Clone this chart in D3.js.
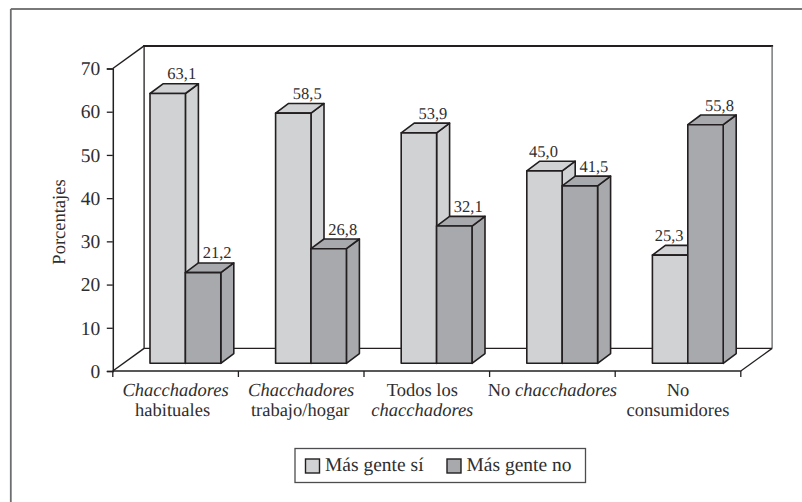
<!DOCTYPE html>
<html>
<head>
<meta charset="utf-8">
<script src="https://cdn.jsdelivr.net/npm/d3@7"></script>
<style>
body { margin: 0; background: #fff; }
svg { display: block; }
text { font-family: "Liberation Serif", serif; fill: #2f2e2e; text-rendering: geometricPrecision; }
</style>
</head>
<body>
<svg width="802" height="502"></svg>
<script>
let categories = [
    [{ t: 'Chacchadores', i: true }, { t: 'habituales' }],
    [{ t: 'Chacchadores', i: true }, { t: 'trabajo/hogar' }],
    [{ t: 'Todos los' }, { t: 'chacchadores', i: true }],
    [{ t: 'No ', inline: 'chacchadores' }],
    [{ t: 'No' }, { t: 'consumidores' }]
];
let seriesNames = ['Más gente sí', 'Más gente no'];
let seriesSi = [63.1, 58.5, 53.9, 45.0, 25.3];
let seriesNo = [21.2, 26.8, 32.1, 41.5, 55.8];
let yTicks = [0, 10, 20, 30, 40, 50, 60, 70];

let ink = '#231f20';
let colors = ['#d1d2d4', '#a7a9ac'];
let depthX = 31.3, depthY = 22.6;   // floor depth
let barDx = 13, barDy = 9.7;        // bar depth

let svg = d3.select('svg');

let x = d3.scaleBand().domain(d3.range(5)).range([112.8, 740.8]);
let xInner = d3.scaleBand().domain([0, 1]).range([37.2, 37.2 + 70.8]);
let y = d3.scaleLinear().domain([0, 70]).range([371, 68.5]);
let yBar = d3.scaleLinear().domain([0, 70]).range([363.3, 64]);

function line(x1, y1, x2, y2, w, col) {
    svg.append('line')
        .attr('x1', x1).attr('y1', y1)
        .attr('x2', x2).attr('y2', y2)
        .attr('stroke', col || ink)
        .attr('stroke-width', w);
}

// outer frame, only top and left are visible
line(10.8, 9, 802, 9, 1.6, '#4d4d4f');
line(10.8, 9, 10.8, 502, 1.8, '#6d6e70');

// back walls and floor
let x0 = x.range()[0], x1 = x.range()[1], y0 = y(0), yTop = y(70);
line(x0 + depthX - 1, yTop - depthY, x1 + depthX + 1, yTop - depthY, 2);
line(x0 + depthX, yTop - depthY, x0 + depthX, y0 - depthY, 1.3);
line(x1 + depthX, yTop - depthY, x1 + depthX, y0 - depthY, 1.2, '#58595b');
line(x0 + depthX, y0 - depthY, x1 + depthX, y0 - depthY, 1.3);
line(x0, yTop, x0 + depthX, yTop - depthY, 1.5);
line(x0, y0, x0 + depthX, y0 - depthY, 1.5);
line(x1, y0, x1 + depthX, y0 - depthY, 1.3);

// axes
let yAxis = d3.axisLeft(y).tickValues(yTicks).tickSize(6).tickFormat(d3.format('d'));
let yG = svg.append('g').attr('transform', 'translate(' + x0 + ',0)').call(yAxis);
yG.select('.domain').attr('stroke', ink).attr('stroke-width', 1.5);
yG.selectAll('.tick line').attr('stroke', ink).attr('stroke-width', 1.3);
yG.selectAll('.tick text').attr('font-size', 19.5).attr('dx', -3.5);

line(x0, y0, x1, y0, 1.6);
x.domain().concat([5]).forEach(function(i) {
    let px = i < 5 ? x(i) : x1;
    line(px, y0, px, y0 + 6, 1.3);
});

// bars
let baseY = yBar(0);
function drawBar(i, s, v) {
    let left = x(i) + xInner(s);
    let w = xInner.bandwidth();
    let top = yBar(v);
    let g = svg.append('g')
        .attr('stroke', ink)
        .attr('stroke-width', 1.6)
        .attr('stroke-linejoin', 'round');
    // side
    g.append('path')
        .attr('d', d3.line()([[left + w, top], [left + w + barDx, top - barDy], [left + w + barDx, baseY - barDy], [left + w, baseY]]) + 'Z')
        .attr('fill', colors[s]);
    // top
    g.append('path')
        .attr('d', d3.line()([[left, top], [left + barDx, top - barDy], [left + w + barDx, top - barDy], [left + w, top]]) + 'Z')
        .attr('fill', colors[s]);
    // front
    g.append('rect')
        .attr('x', left).attr('y', top)
        .attr('width', w).attr('height', baseY - top)
        .attr('fill', colors[s]);
}
categories.forEach(function(c, i) {
    drawBar(i, 0, seriesSi[i]);
    drawBar(i, 1, seriesNo[i]);
});

// value labels go on top of the bars, two of them sit left of the usual place
function drawValue(i, s, v) {
    let shift = s === 0 && i >= 3 ? -14 : 1;
    svg.append('text')
        .attr('x', x(i) + xInner(s) + xInner.bandwidth() / 2 + barDx + shift)
        .attr('y', yBar(v) - barDy - 4.5)
        .attr('text-anchor', 'middle')
        .attr('font-size', 16.5)
        .text(v.toFixed(1).replace('.', ','));
}
categories.forEach(function(c, i) {
    drawValue(i, 0, seriesSi[i]);
    drawValue(i, 1, seriesNo[i]);
});

// category labels, nudged by hand where the original is off centre
function labelShift(i, k) {
    if (i === 2) return -4.5;
    if (i === 0 && k === 1) return -3;
    if (i === 1 && k === 1) return -1;
    return 0;
}
categories.forEach(function(c, i) {
    let cx = x(i) + x.bandwidth() / 2;
    c.forEach(function(l, k) {
        let t = svg.append('text')
            .attr('x', cx + labelShift(i, k))
            .attr('y', 395.5 + k * 20)
            .attr('text-anchor', 'middle')
            .attr('font-size', 18.5);
        let sp = t.append('tspan').text(l.t);
        if (l.i) sp.attr('font-style', 'italic');
        if (l.inline) t.append('tspan').attr('font-style', 'italic').text(l.inline);
    });
});

// y title
svg.append('text')
    .attr('transform', 'translate(65,222) rotate(-90)')
    .attr('text-anchor', 'middle')
    .attr('font-size', 18.5)
    .text('Porcentajes');

// legend
svg.append('rect')
    .attr('x', 295).attr('y', 448.5)
    .attr('width', 290.5).attr('height', 34)
    .attr('fill', '#fff')
    .attr('stroke', '#4d4d4f')
    .attr('stroke-width', 1.3);
[305.5, 447].forEach(function(px, s) {
    svg.append('rect')
        .attr('x', px).attr('y', 459)
        .attr('width', 14).attr('height', 14)
        .attr('fill', colors[s])
        .attr('stroke', ink)
        .attr('stroke-width', 1.4);
    svg.append('text')
        .attr('x', px + 19.5)
        .attr('y', 471)
        .attr('font-size', 19.5)
        .text(seriesNames[s]);
});
</script>
</body>
</html>
